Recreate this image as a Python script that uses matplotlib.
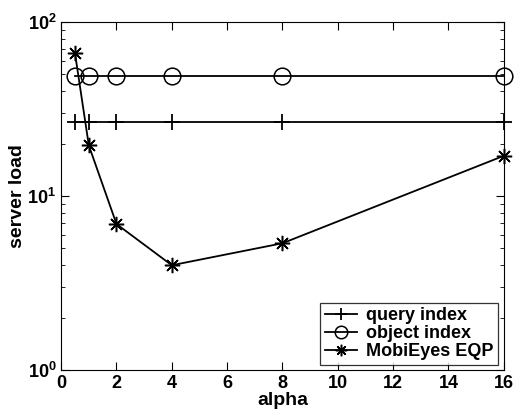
import matplotlib.pyplot as plt
import numpy as np

plt.rcParams['font.family'] = ['Liberation Sans', 'DejaVu Sans']
plt.rcParams['font.weight'] = 'bold'
plt.rcParams['mathtext.default'] = 'bf'

# data
alpha = [0.5, 1, 2, 4, 8, 16]
query_index = [26.7, 26.7, 26.7, 26.7, 26.7, 26.7]
object_index = [49, 49, 49, 49, 49, 49]
mobieyes_eqp = [66, 19.5, 6.9, 4.0, 5.35, 17.0]

fig = plt.figure(figsize=(5.14, 4.13), dpi=100)
ax = fig.add_axes([0.119, 0.104, 0.861, 0.843])

ax.plot(alpha, query_index, color='black', lw=1.3, marker='+', ms=12, mew=1.3,
        label='query index', clip_on=False)
ax.plot(alpha, object_index, color='black', lw=1.3, marker='o', ms=12, mew=1.1,
        mfc='none', label='object index', clip_on=False)
ax.plot(alpha, mobieyes_eqp, color='black', lw=1.3, marker=(8, 2, 0), ms=11, mew=1.1,
        label='MobiEyes EQP', clip_on=False)

ax.set_yscale('log')
ax.set_xlim(0, 16)
ax.set_ylim(1, 100)
ax.set_xticks(np.arange(0, 17, 2))
ax.tick_params(which='both', direction='in', top=True, right=True, labelsize=13)
ax.tick_params(which='major', length=6)
ax.tick_params(which='minor', length=3)
for lab in ax.get_xticklabels() + ax.get_yticklabels():
    lab.set_fontweight('bold')

ax.set_xlabel('alpha', fontsize=14, fontweight='bold', labelpad=0)
ax.set_ylabel('server load', fontsize=14, fontweight='bold', labelpad=1)

leg = ax.legend(loc='lower right', fontsize=13, frameon=True, fancybox=False,
                edgecolor='black', handlelength=1.8, handletextpad=0.5,
                borderpad=0.25, labelspacing=0.05, borderaxespad=0.3,
                markerscale=0.75)
leg.get_frame().set_linewidth(0.9)
for t in leg.get_texts():
    t.set_fontweight('bold')

fig.savefig('out.png', dpi=100)
